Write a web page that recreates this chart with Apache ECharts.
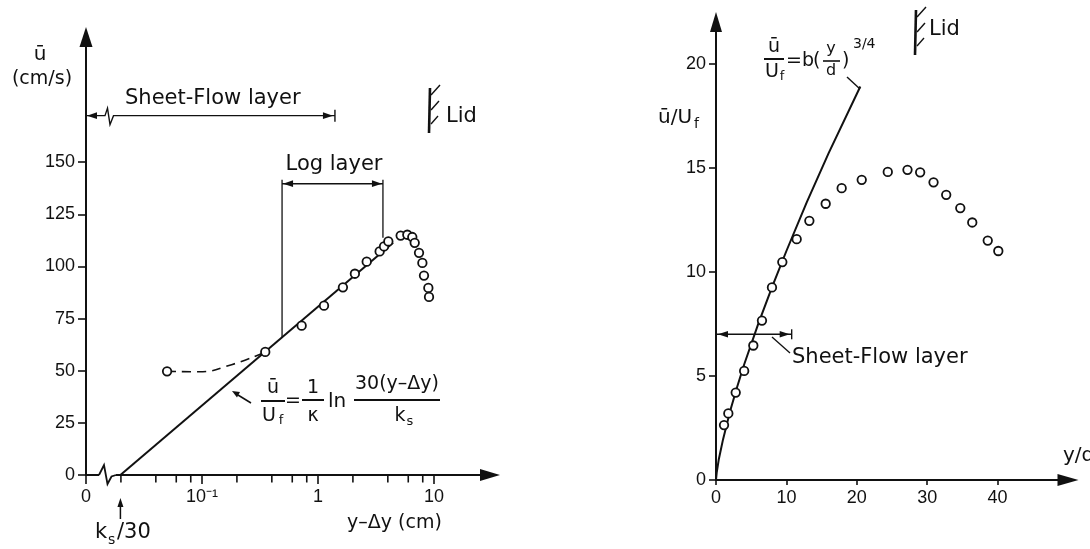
<!DOCTYPE html>
<html><head><meta charset="utf-8">
<script src="https://cdn.jsdelivr.net/npm/echarts@6/dist/echarts.min.js"></script>
<style>html,body{margin:0;padding:0;background:#fff}#c{width:1090px;height:549px}</style>
</head><body><div id="c"></div>
<script>
// ---------- data: left panel ----------
const leftTicksY = [0, 25, 50, 75, 100, 125, 150];
const leftTicksX = [0.01, 0.1, 1, 10];
const leftTickLabels = ['0', '10⁻¹', '1', '10'];
const leftMinorX = [0.02, 0.04, 0.06, 0.08, 0.2, 0.4, 0.6, 0.8, 2, 4, 6, 8];
const leftPoints = [[0.05,49.7],[0.351,59.0],[0.723,71.6],[1.127,81.2],[1.64,90.0],[2.08,96.5],[2.63,102.3],[3.40,107.2],[3.71,109.6],[4.04,112.0],[5.16,114.8],[5.89,115.2],[6.5,114.1],[6.82,111.3],[7.43,106.5],[7.94,101.7],[8.2,95.6],[8.94,89.7],[9.06,85.4]];
const leftLogLine = [[0.0198,0],[4.44,111.3]];
const leftDashed = [[0.05,49.7],[0.094,49.5],[0.18,52.9],[0.351,59.0]];
const ksOver30 = 0.0198;
const leftSheetFlow = [0.01, 1.40, 172.3];     // x from, x to, y
const leftLogLayer = [0.49, 3.63, 139.7];      // x from, x to, y
const leftLogLayerFeet = [66, 113.8];          // lower ends of the two verticals
// ---------- data: right panel ----------
const rightTicksX = [0, 10, 20, 30, 40];
const rightTicksY = [0, 5, 10, 15, 20];
const rightPoints = [[1.14,2.64],[1.75,3.2],[2.8,4.2],[4.0,5.24],[5.3,6.46],[6.53,7.66],[7.95,9.25],[9.42,10.47],[11.46,11.57],[13.26,12.45],[15.58,13.27],[17.85,14.02],[20.7,14.42],[24.4,14.8],[27.2,14.9],[29.0,14.78],[30.9,14.3],[32.7,13.7],[34.7,13.06],[36.4,12.37],[38.6,11.5],[40.1,11.0]];
const rightPowerLine = [[0,0],[0.1,0.35],[0.4,1.0],[1,1.95],[2,3.3],[3,4.47],[4,5.55],[6,7.5],[8,9.3],[10,11.0],[12.9,13.35],[16,15.7],[20.5,18.9]];
const rightSheetFlow = [0, 10.75, 7.0];

const TICKFONT = "'Liberation Sans', Arial, sans-serif";
const TXT = "'DejaVu Sans', sans-serif";
const INK = '#111';

function head(tip, dir, len, hw) {
  len = len || 10; hw = hw || 3.3;
  const bx = tip[0] - dir[0]*len, by = tip[1] - dir[1]*len;
  const px = -dir[1], py = dir[0];
  return {type:'polygon', shape:{points:[[tip[0],tip[1]],[bx+px*hw,by+py*hw],[bx-px*hw,by-py*hw]]}, style:{fill:INK}};
}
function seg(x1,y1,x2,y2,w){ return {type:'line', shape:{x1,y1,x2,y2}, style:{stroke:INK, lineWidth:w||1.5}}; }
function poly(pts,w){ return {type:'polyline', shape:{points:pts}, style:{stroke:INK, lineWidth:w||1.5, fill:null}}; }

function leftDecor(params, api) {
  const c = (x,y) => api.coord([x,y]);
  const k = [];
  // x-axis break
  const o = c(leftTicksX[0], 0);
  k.push({type:'rect', shape:{x:o[0]+13, y:o[1]-2, width:17, height:4}, style:{fill:'#fff'}});
  k.push(poly([[o[0]+13,o[1]],[o[0]+18,o[1]-10],[o[0]+21.5,o[1]+9],[o[0]+25.5,o[1]+1.5],[o[0]+30,o[1]]],1.8));
  // ks/30 arrow
  const ks = c(ksOver30, 0);
  k.push(seg(ks[0], ks[1]+44, ks[0], ks[1]+28, 1.5));
  k.push(head([ks[0], ks[1]+23], [0,-1], 9, 3));
  // sheet-flow layer
  const a = c(leftSheetFlow[0], leftSheetFlow[2]), b = c(leftSheetFlow[1], leftSheetFlow[2]);
  k.push(poly([[a[0],a[1]],[a[0]+19,a[1]],[a[0]+21.5,a[1]-7.5],[a[0]+24,a[1]+9],[a[0]+27.5,a[1]],[b[0],b[1]]],1.4));
  k.push(head([a[0]+1,a[1]],[-1,0]));
  k.push(head([b[0]-2,b[1]],[1,0]));
  k.push(seg(b[0],b[1]-6,b[0],b[1]+6,1.4));
  // log layer
  const l1 = c(leftLogLayer[0], leftLogLayer[2]), l2 = c(leftLogLayer[1], leftLogLayer[2]);
  const f1 = c(leftLogLayer[0], leftLogLayerFeet[0]), f2 = c(leftLogLayer[1], leftLogLayerFeet[1]);
  k.push(seg(l1[0], l1[1], l2[0], l2[1], 1.5));
  k.push(head([l1[0]+1,l1[1]],[-1,0]));
  k.push(head([l2[0]-1,l2[1]],[1,0]));
  k.push(seg(l1[0], l1[1]-4, f1[0], f1[1], 1.3));
  k.push(seg(l2[0], l2[1]-4, f2[0], f2[1], 1.3));
  return {type:'group', children:k};
}
function rightDecor(params, api) {
  const c = (x,y) => api.coord([x,y]);
  const k = [];
  const a = c(rightSheetFlow[0], rightSheetFlow[2]), b = c(rightSheetFlow[1], rightSheetFlow[2]);
  k.push(seg(a[0], a[1], b[0], b[1], 1.5));
  k.push(head([a[0]+2,a[1]],[-1,0]));
  k.push(head([b[0]-2,b[1]],[1,0]));
  k.push(seg(b[0],b[1]-5,b[0],b[1]+5,1.4));
  return {type:'group', children:k};
}

function txt(s, x, y, size, align, font, extra) {
  return Object.assign({type:'text', x, y, z:10, style:{text:s, font:(size)+'px '+(font||TXT), fill:INK, align:align||'left', verticalAlign:'middle'}}, extra||{});
}
function gl(x1,y1,x2,y2,w){ return {type:'line', z:10, shape:{x1,y1,x2,y2}, style:{stroke:INK, lineWidth:w||1.5}}; }
function lid(x, y0, y1) {
  return [
    gl(x, y0, x-1, y1, 2.6),
    gl(x+1, y0+7, x+10, y0-3, 1.4),
    gl(x+1, y0+22, x+9, y0+13, 1.4),
    gl(x+1, y0+36, x+8, y0+28, 1.4)
  ];
}

const graphics = [
  // left panel labels
  txt('ū', 40, 55, 20, 'center'),
  txt('(cm/s)', 42, 79, 19, 'center'),
  txt('Sheet-Flow layer', 125, 99, 21),
  txt('Log layer', 334, 165, 21, 'center'),
  txt('Lid', 446, 117, 21),
  ...lid(430, 88, 133),
  txt('y–Δy (cm)', 347, 523, 19),
  txt('k', 95, 533, 21),
  txt('s', 108, 540, 14),
  txt('/30', 117, 533, 21),
  // left formula
  txt('ū', 273, 388, 19, 'center'),
  gl(261, 401, 285, 401, 2),
  txt('U', 269, 416, 19, 'center'),
  txt('f', 281, 421, 13, 'center'),
  txt('=', 293, 401, 19, 'center'),
  txt('1', 313, 388, 19, 'center'),
  gl(302, 400, 324, 400, 2),
  txt('κ', 313, 416, 19, 'center'),
  txt('ln', 337, 402, 20, 'center'),
  txt('30(y–Δy)', 397, 384, 19, 'center'),
  gl(354, 400, 440, 400, 2),
  txt('k', 400, 416, 19, 'center'),
  txt('s', 410, 422, 13, 'center'),
  gl(251, 403, 238, 395, 1.5),
  {type:'polygon', z:10, shape:{points:[[232,391],[240,392],[237,397.5]]}, style:{fill:INK}},
  // right panel labels
  txt('ū/U', 658, 118, 20),
  txt('f', 694, 124, 14),
  txt('y/d', 1063, 456, 20),
  txt('Lid', 929, 30, 21),
  ...lid(916, 10, 55),
  txt('Sheet-Flow layer', 792, 358, 21),
  gl(772, 337, 790, 353, 1.4),
  // right formula
  txt('ū', 774, 47, 19, 'center'),
  gl(764, 59, 784, 59, 2),
  txt('U', 772, 72, 19, 'center'),
  txt('f', 782, 77, 13, 'center'),
  txt('=b', 786, 61, 19),
  txt('(', 813, 61, 19),
  txt('y', 831, 49, 16, 'center'),
  gl(823, 61, 840, 61, 1.6),
  txt('d', 831, 71, 16, 'center'),
  txt(')', 842, 61, 19),
  txt('3/4', 853, 44, 14),
  gl(847, 77, 860, 89, 1.4)
];

const axisLineStyle = {color:INK, width:2};
const tickLabel = {color:INK, fontFamily:TICKFONT, fontSize:18};

const option = {
  animation: false,
  backgroundColor: '#fff',
  grid: [
    {left:86, top:37, width:404, height:438},
    {left:716, top:22, width:352, height:458}
  ],
  xAxis: [
    {gridIndex:0, type:'log', logBase:10, min:0.01, max:30.4,
     axisLine:{lineStyle:axisLineStyle, symbol:['none','triangle'], symbolSize:[12,20]},
     axisTick:{customValues:leftTicksX, length:9, lineStyle:{color:INK, width:1.6}},
     axisLabel:Object.assign({customValues:leftTicksX, margin:13,
       formatter:v => { const i = leftTicksX.findIndex(t => Math.abs(Math.log10(t)-Math.log10(v))<1e-6); return i>=0 ? leftTickLabels[i] : ''; }}, tickLabel),
     splitLine:{show:false}, minorTick:{show:false}},
    {gridIndex:1, type:'value', min:0, max:50,
     axisLine:{lineStyle:axisLineStyle, symbol:['none','triangle'], symbolSize:[12,21]},
     axisTick:{customValues:rightTicksX, length:5, lineStyle:{color:INK, width:1.6}},
     axisLabel:Object.assign({customValues:rightTicksX, margin:9}, tickLabel),
     splitLine:{show:false}}
  ],
  yAxis: [
    {gridIndex:0, type:'value', min:0, max:210,
     axisLine:{lineStyle:axisLineStyle, symbol:['none','triangle'], symbolSize:[13,20]},
     axisTick:{customValues:leftTicksY, length:8, lineStyle:{color:INK, width:1.6}},
     axisLabel:Object.assign({customValues:leftTicksY, margin:11}, tickLabel),
     splitLine:{show:false}},
    {gridIndex:1, type:'value', min:0, max:22,
     axisLine:{lineStyle:axisLineStyle, symbol:['none','triangle'], symbolSize:[12,20]},
     axisTick:{customValues:rightTicksY, length:7, lineStyle:{color:INK, width:1.6}},
     axisLabel:Object.assign({customValues:rightTicksY, margin:10}, tickLabel),
     splitLine:{show:false}}
  ],
  series: [
    {type:'line', xAxisIndex:0, yAxisIndex:0, data:leftLogLine, symbol:'none', lineStyle:{color:INK, width:2}, z:3},
    {type:'line', xAxisIndex:0, yAxisIndex:0, data:leftDashed, symbol:'none', smooth:0.5, lineStyle:{color:INK, width:1.6, type:[9,6]}, z:3},
    {type:'scatter', xAxisIndex:0, yAxisIndex:0, data:leftPoints, symbol:'circle', symbolSize:8.5, itemStyle:{color:'#fff', borderColor:INK, borderWidth:1.8, opacity:1}, z:5},
    // minor ticks of the log axis
    {type:'scatter', xAxisIndex:0, yAxisIndex:0, data:leftMinorX.map(v => [v, 0]), symbol:'rect', symbolSize:[1.6, 7], symbolOffset:[0, 4], itemStyle:{color:INK, opacity:1}, silent:true, clip:false, z:4},
    {type:'custom', xAxisIndex:0, yAxisIndex:0, data:[0], renderItem:leftDecor, silent:true, z:6},
    {type:'line', xAxisIndex:1, yAxisIndex:1, data:rightPowerLine, symbol:'none', smooth:false, lineStyle:{color:INK, width:2, join:'round'}, z:3},
    {type:'scatter', xAxisIndex:1, yAxisIndex:1, data:rightPoints, symbol:'circle', symbolSize:8.5, itemStyle:{color:'#fff', borderColor:INK, borderWidth:1.8, opacity:1}, z:5},
    {type:'custom', xAxisIndex:1, yAxisIndex:1, data:[0], renderItem:rightDecor, silent:true, z:6}
  ],
  graphic: graphics
};
const chart = echarts.init(document.getElementById('c'), null, {renderer:'canvas'});
chart.setOption(option);
</script></body></html>
